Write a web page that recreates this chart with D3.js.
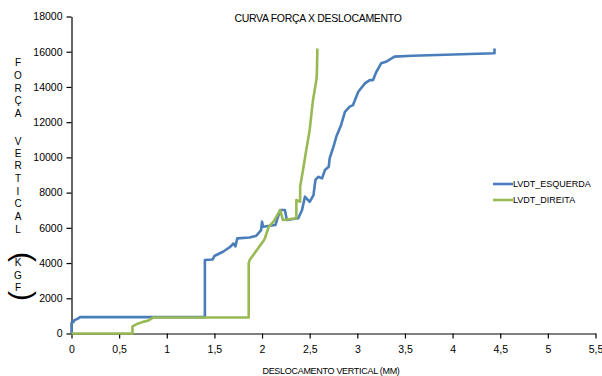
<!DOCTYPE html>
<html lang="pt">
<head>
<meta charset="UTF-8">
<script src="https://d3js.org/d3.v7.min.js"></script>
<style>
    body { margin: 0; background: #fff; }
    svg { display: block; font-family: "Liberation Sans", Arial, sans-serif; }
</style>
</head>
<body>
<svg width="602" height="376"></svg>
<script>
    // LVDT_ESQUERDA (blue)
    const esqX = [0, 0, 0.02, 0.03, 0.05, 0.07, 0.09, 1.40, 1.40, 1.48, 1.50, 1.59, 1.66, 1.68, 1.70, 1.72, 1.74, 1.87, 1.94, 1.99, 2.00, 2.01, 2.14, 2.19, 2.24, 2.26, 2.38, 2.42, 2.45, 2.50, 2.54, 2.56, 2.59, 2.63, 2.66, 2.70, 2.71, 2.75, 2.78, 2.83, 2.87, 2.92, 2.955, 3.01, 3.08, 3.13, 3.165, 3.20, 3.25, 3.30, 3.39, 3.58, 4.44, 4.44];
    const esqY = [0, 600, 650, 750, 800, 850, 930, 930, 4170, 4200, 4400, 4640, 4900, 5000, 5110, 4950, 5400, 5450, 5550, 5870, 6350, 6060, 6160, 7010, 7010, 6440, 6540, 7010, 7770, 7480, 7860, 8720, 8900, 8810, 9280, 9470, 9950, 10610, 11180, 11840, 12590, 12880, 12970, 13730, 14200, 14390, 14390, 14860, 15340, 15430, 15720, 15770, 15910, 16190];

    // LVDT_DIREITA (green)
    const dirX = [0, 0.64, 0.64, 0.70, 0.75, 0.80, 0.86, 1.86, 1.86, 1.87, 1.97, 2.02, 2.03, 2.07, 2.12, 2.19, 2.22, 2.36, 2.36, 2.40, 2.40, 2.43, 2.47, 2.50, 2.535, 2.57, 2.575, 2.58, 2.58];
    const dirY = [0, 0, 400, 570, 660, 720, 910, 910, 3980, 4170, 4920, 5300, 5410, 6060, 6350, 7010, 6440, 6540, 7580, 7480, 8340, 9280, 10610, 11560, 13260, 14390, 14680, 15910, 16190];

    const xTicks = [0, 0.5, 1, 1.5, 2, 2.5, 3, 3.5, 4, 4.5, 5, 5.5];
    const yTicks = [0, 2000, 4000, 6000, 8000, 10000, 12000, 14000, 16000, 18000];

    const seriesNames = ["LVDT_ESQUERDA", "LVDT_DIREITA"];
    const seriesColors = ["#4a7ebb", "#98b954"];

    const svg = d3.select("svg");
    const x = d3.scaleLinear().domain([0, 5.5]).range([71.5, 595.5]);
    const y = d3.scaleLinear().domain([0, 18000]).range([333.5, 16.5]);

    const fmt = d => String(d).replace(".", ",");

    const xAxis = svg.append("g")
        .attr("transform", `translate(0,${y(0)})`)
        .call(d3.axisBottom(x).tickValues(xTicks).tickFormat(fmt).tickSize(5).tickSizeOuter(0));
    const yAxis = svg.append("g")
        .attr("transform", `translate(${x(0)},0)`)
        .call(d3.axisLeft(y).tickValues(yTicks).tickFormat(d => d).tickSize(5).tickSizeOuter(0));

    [xAxis, yAxis].forEach(g => {
        g.selectAll("path, line").attr("stroke", "#000").attr("stroke-width", 1.2);
        g.selectAll("text").attr("fill", "#000").attr("font-size", 10.5)
            .attr("font-family", "'Liberation Sans', Arial, sans-serif");
    });
    xAxis.selectAll("text").attr("dy", "1.05em");
    yAxis.selectAll("text").attr("x", -9);

    const line = d3.line().x(d => x(d[0])).y(d => y(d[1]));
    const series = [d3.zip(esqX, esqY), d3.zip(dirX, dirY)];

    series.forEach((pts, i) => {
        svg.append("path")
            .datum(pts)
            .attr("fill", "none")
            .attr("stroke", seriesColors[i])
            .attr("stroke-width", 2.6)
            .attr("stroke-linejoin", "round")
            .attr("d", line);
    });

    // title
    svg.append("text")
        .attr("x", 318).attr("y", 22)
        .attr("text-anchor", "middle")
        .attr("font-size", 10.5)
        .attr("letter-spacing", -0.3)
        .text("CURVA FORÇA X DESLOCAMENTO");

    // x label
    svg.append("text")
        .attr("x", 331).attr("y", 374)
        .attr("text-anchor", "middle")
        .attr("font-size", 9)
        .attr("letter-spacing", -0.3)
        .text("DESLOCAMENTO VERTICAL (MM)");

    // y label, one letter per line
    const yLetters = [["F", 66], ["O", 79], ["R", 92], ["Ç", 104], ["A", 117],
        ["V", 145], ["E", 157], ["R", 169], ["T", 182], ["I", 195], ["C", 207], ["A", 220], ["L", 233],
        ["K", 266], ["G", 279], ["F", 291]];
    svg.append("g").selectAll("text")
        .data(yLetters)
        .join("text")
        .attr("x", 18).attr("y", d => d[1])
        .attr("text-anchor", "middle")
        .attr("font-size", 10)
        .text(d => d[0]);

    // rotated parentheses around KGF
    [["(", 257], [")", 296]].forEach(([ch, yy]) => {
        svg.append("text")
            .attr("transform", `translate(22,${yy}) rotate(90)`)
            .attr("text-anchor", "middle")
            .attr("dy", "0.26em")
            .attr("font-size", 30)
            .text(ch);
    });

    // legend
    const legend = svg.append("g").attr("transform", "translate(493,184)");
    seriesNames.forEach((name, i) => {
        const g = legend.append("g").attr("transform", `translate(0,${i * 16})`);
        g.append("line").attr("x1", 0).attr("x2", 20).attr("y1", 0).attr("y2", 0)
            .attr("stroke", seriesColors[i]).attr("stroke-width", 2.6);
        g.append("text").attr("x", 20).attr("y", 0).attr("dy", "0.35em")
            .attr("font-size", 9).text(name);
    });
</script>
</body>
</html>
